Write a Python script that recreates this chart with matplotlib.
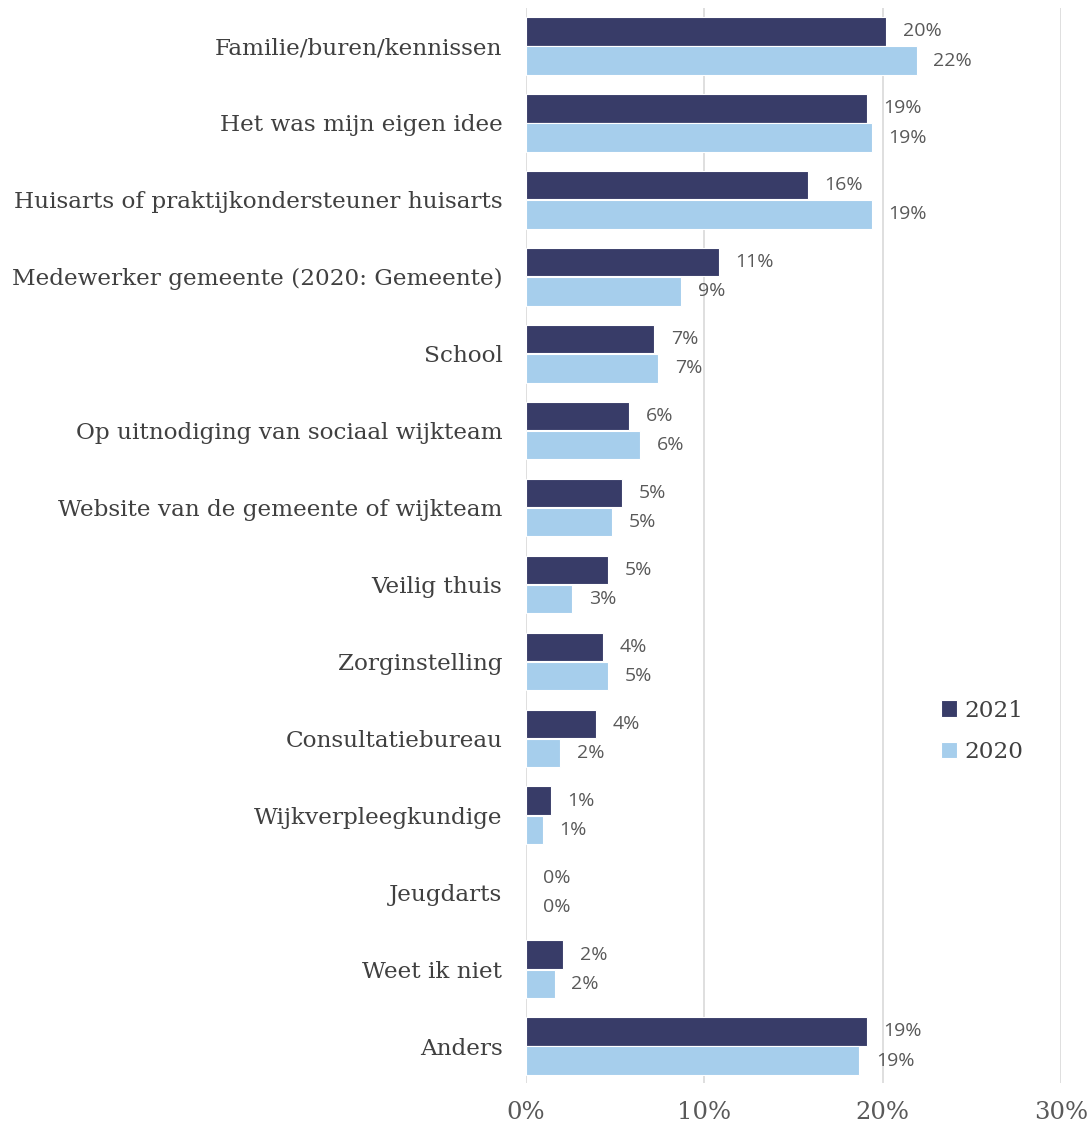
import numpy as np
import matplotlib
matplotlib.use('Agg')
import matplotlib.pyplot as plt

# survey answers, top to bottom
categories = [
    'Familie/buren/kennissen',
    'Het was mijn eigen idee',
    'Huisarts of praktijkondersteuner huisarts',
    'Medewerker gemeente (2020: Gemeente)',
    'School',
    'Op uitnodiging van sociaal wijkteam',
    'Website van de gemeente of wijkteam',
    'Veilig thuis',
    'Zorginstelling',
    'Consultatiebureau',
    'Wijkverpleegkundige',
    'Jeugdarts',
    'Weet ik niet',
    'Anders',
]
pct_2021 = [20.2, 19.1, 15.8, 10.8, 7.2, 5.8, 5.4, 4.6, 4.3, 3.9, 1.4, 0.0, 2.1, 19.1]
pct_2020 = [21.9, 19.4, 19.4, 8.7, 7.4, 6.4, 4.8, 2.6, 4.6, 1.9, 0.95, 0.0, 1.6, 18.7]
xticks = [0, 10, 20, 30]

dark = '#383c68'
light = '#a6ceec'
grey = '#595959'

fig = plt.figure(figsize=(10.9, 11.28), dpi=100)
ax = fig.add_axes([0.4826, 0.0399, 0.4908, 0.953])

y = np.arange(len(categories))
h = 0.37
b1 = ax.barh(y - 0.19, pct_2021, height=h, color=dark, edgecolor='white', linewidth=0.8, label='2021', zorder=3)
b2 = ax.barh(y + 0.19, pct_2020, height=h, color=light, edgecolor='white', linewidth=0.8, label='2020', zorder=3)
# empty bars should not hide the zero gridline
for bar in list(b1) + list(b2):
    if bar.get_width() == 0:
        bar.set_linewidth(0)

for yy, v in zip(y - 0.19, pct_2021):
    ax.annotate('%.0f%%' % v, (v, yy), xytext=(12, 0), textcoords='offset points',
                va='center', ha='left', fontsize=14, color=grey, family='Open Sans')
for yy, v in zip(y + 0.19, pct_2020):
    ax.annotate('%.0f%%' % v, (v, yy), xytext=(12, 0), textcoords='offset points',
                va='center', ha='left', fontsize=14, color=grey, family='Open Sans')

ax.set_xlim(0, 30)
ax.set_ylim(13.48, -0.494)
ax.set_xticks(xticks)
ax.set_xticklabels(['%d%%' % t for t in xticks], fontsize=17.5, color=grey, family='DejaVu Serif')
ax.set_yticks(y)
ax.set_yticklabels(categories, fontsize=16.7, color='#404040', family='DejaVu Serif')
ax.tick_params(axis='x', length=0, pad=13)
ax.tick_params(axis='y', length=0, pad=17)
ax.grid(axis='x', color='#d9d9d9', linewidth=1.2, zorder=0)
for s in ax.spines.values():
    s.set_visible(False)

leg = ax.legend(loc='center left', bbox_to_anchor=(0.737, 0.327), frameon=False,
                handlelength=0.7, handleheight=0.7, handletextpad=0.3, labelspacing=0.85,
                prop={'family': 'DejaVu Serif', 'size': 16.7})
for t in leg.get_texts():
    t.set_color('#404040')

fig.savefig('out.png', dpi=100)
